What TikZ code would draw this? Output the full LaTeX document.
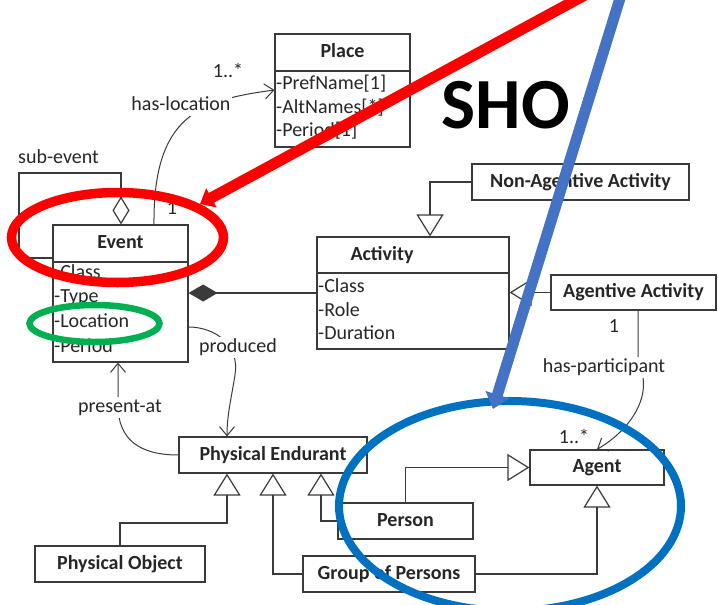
\documentclass[tikz,border=0pt]{standalone}
\usepackage{fontspec}
\setmainfont{Carlito}
\usetikzlibrary{arrows.meta,calc}
\definecolor{ink}{HTML}{262626}
\definecolor{edge}{HTML}{3A3A3A}
\definecolor{markred}{HTML}{FF0000}
\definecolor{markblue}{HTML}{4472C4}
\definecolor{ringblue}{HTML}{0070C0}
\definecolor{ringgreen}{HTML}{00B050}
\begin{document}
\begin{tikzpicture}[x=1pt,y=-1pt,
  every node/.style={font=\fontsize{20}{24}\selectfont, text=ink},
  box/.style={draw=edge, line width=1.2pt, minimum height=36pt, inner sep=0pt,
    font=\fontsize{20}{24}\selectfont\bfseries, text height=14pt, text depth=4pt},
  ttl/.style={font=\fontsize{20}{24}\selectfont\bfseries, text height=14pt, text depth=4pt, inner sep=0pt},
  attr/.style={anchor=west, inner sep=1pt, text height=14pt, text depth=4pt},
  lbl/.style={fill=white, inner sep=1.5pt, text height=14pt, text depth=4pt},
  mult/.style={inner sep=1pt},
  gen/.style={draw=edge, line width=1.2pt, -{Triangle[open, length=22pt, width=27pt]}},
  assoc/.style={draw=edge, line width=1pt, -{Straight Barb[length=9pt, width=15pt]}},
  aggr/.style={draw=edge, line width=1.2pt, {Diamond[open, length=28pt, width=17pt]}-},
  compo/.style={draw=edge, line width=1.2pt, {Diamond[length=29pt, width=17pt]}-},
]
\clip (0,0) rectangle (718,605);

% ---------- classes ----------
% Place
\node[box, minimum width=135pt, minimum height=37pt] (placeT) at (342.5,52.5) {Place};
\node[box, minimum width=135pt, minimum height=76pt] (placeA) at (342.5,109) {};
\node[attr] (placeA1) at (275,84) {-PrefName[1]};
\node[attr] (placeA2) at (275,108) {-AltNames[*]};
\node[attr] (placeA3) at (275,131) {-Period[1]};

% Event
\node[box, minimum width=135pt, minimum height=37pt] (eventT) at (120.5,243.5) {Event};
\node[box, minimum width=135pt, minimum height=100pt] (eventA) at (120.5,312) {};
\node[attr] (eventA1) at (53,273) {-Class};
\node[attr] (eventA2) at (53,297) {-Type};
\node[attr] (eventA3) at (53,322) {-Location};
\node[attr] (eventA4) at (53,347) {-Period};

% Activity
\node[box, minimum width=192pt, minimum height=36pt] (actT) at (413,255) {};
\node[ttl] (actN) at (382,255) {Activity};
\node[box, minimum width=192pt, minimum height=76pt] (actA) at (413,311) {};
\node[attr] (actA1) at (317,287) {-Class};
\node[attr] (actA2) at (317,311) {-Role};
\node[attr] (actA3) at (317,334) {-Duration};

% single-compartment classes
\node[box, minimum width=217pt] (naa) at (580.5,182) {Non-Agentive Activity};
\node[box, minimum width=165pt, minimum height=35pt] (aa) at (633.5,292.5) {Agentive Activity};
\node[box, minimum width=134pt, minimum height=35pt] (agent) at (597,467.5) {Agent};
\node[box, minimum width=135pt] (person) at (405.5,521) {Person};
\node[box, minimum width=172pt] (group) at (389,574) {Group of Persons};
\node[box, minimum width=188pt] (pe) at (273,455) {Physical Endurant};
\node[box, minimum width=170pt] (po) at (120,564) {Physical Object};

% ---------- aggregation / composition ----------
\coordinate (se1) at (121,173);
\coordinate (se2) at (19,173);
\coordinate (se3) at (19,258);
\draw[aggr] (eventT.north -| se1) -- (se1) -- (se2) -- (se3) -- (se3 -| eventT.west);
\node[anchor=west, inner sep=0pt] (seL) at (18,157) {sub-event};

\coordinate (cmp) at (250,293);
\draw[compo] (eventA.east |- cmp) -- (actA.west |- cmp);

% ---------- generalizations ----------
\coordinate (g1) at (430,182);
\draw[gen] (naa.west) -- (g1) -- (g1 |- actT.north);
\draw[gen] (aa.west) -- (aa.west -| actA.east);
\draw[gen] (person.north) |- (agent.west);
\draw[gen] (group.east) -| (agent.south);
\draw[gen] (group.west) -| (pe.south);
\coordinate (g3) at (321,497);
\draw[gen] (person.west) -| (g3 |- pe.south);
\coordinate (g4) at (227,523);
\draw[gen] (po.north) |- (g4) -- (g4 |- pe.south);

% ---------- associations ----------
\coordinate (hl) at (154,0);
\coordinate (hlEnd) at (0,90);
\draw[assoc] (eventT.north -| hl) .. controls (153,115) and (200,100) .. (placeA.west |- hlEnd);
\node[lbl] (hlL) at (181,105) {has-location};
\node[mult] (hlM1) at (172,208) {1};
\node[mult] (hlM2) at (228,70) {1..*};

\coordinate (pr0) at (0,327);
\coordinate (pr1) at (227,0);
\draw[assoc] (eventA.east |- pr0) .. controls (215,327) and (240,345) .. (235,375)
  .. controls (231,400) and (227,415) .. (pe.north -| pr1);
\node[lbl] (prL) at (238,347) {produced};

\coordinate (pa) at (118,0);
\draw[assoc] (pe.west) .. controls (140,455) and (118,440) .. (118,405) -- (eventA.south -| pa);
\node[lbl] (paL) at (120,407) {present-at};

\coordinate (hp) at (638,0);
\draw[assoc] (aa.south -| hp) -- (638,362) .. controls (655,395) and (630,430) .. (agent.north);
\node[lbl] (hpL) at (604,367) {has-participant};
\node[mult] (hpM1) at (614,326) {1};
\node[mult] (hpM2) at (574,436) {1..*};

% ---------- highlighting ----------
\node[font=\fontsize{72}{80}\selectfont\bfseries, text=black, anchor=base, inner sep=0pt] (sho) at (506,128) {SHO};

\draw[markred, line width=9.5pt] (117.5,237.5) ellipse [x radius=106pt, y radius=45pt];
\draw[ringgreen, line width=6.5pt] (94.5,323.5) ellipse [x radius=65pt, y radius=18.5pt];
\draw[ringblue, line width=8pt] (510,506) ellipse [x radius=171pt, y radius=105pt];

\coordinate (redStart) at (585,-5);
\coordinate (redTip) at (200,204);
\draw[markred, line width=11pt, -{Triangle[length=13pt, width=21pt]}] (redStart) -- (redTip);
\coordinate (blueStart) at (621,-5);
\coordinate (blueTip) at (493,409);
\draw[markblue, line width=11pt, -{Triangle[length=15pt, width=24pt]}] (blueStart) -- (blueTip);
\end{tikzpicture}
\end{document}
